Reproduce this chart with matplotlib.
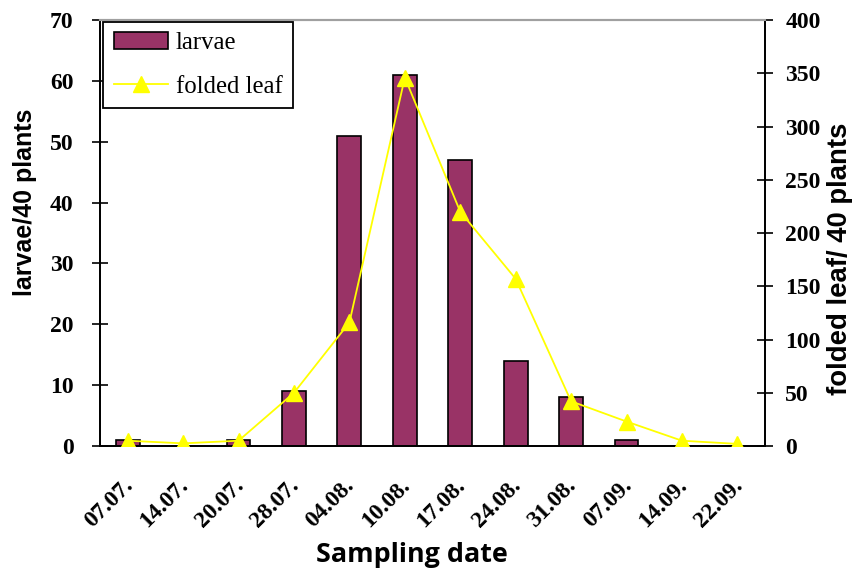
import matplotlib
matplotlib.use("Agg")
import matplotlib.pyplot as plt
import matplotlib.transforms as mtransforms
from matplotlib.font_manager import FontProperties
import numpy as np

dates = ["07.07.", "14.07.", "20.07.", "28.07.", "04.08.", "10.08.",
         "17.08.", "24.08.", "31.08.", "07.09.", "14.09.", "22.09."]
larvae = [1, 0, 1, 9, 51, 61, 47, 14, 8, 1, 0, 0]
folded_leaf = [5, 2.5, 5, 50, 116, 346, 220, 157, 42, 23, 5, 2]

fig = plt.figure(figsize=(8.6, 5.7), dpi=100)
ax = fig.add_axes([0.1163, 0.2175, 0.7733, 0.7474])
x = np.arange(len(dates))

bars = ax.bar(x, larvae, width=0.43, color="#993366", edgecolor="black",
              linewidth=1.2, label="larvae", zorder=2)
ax.set_xlim(-0.5, len(dates) - 0.5)
ax.set_ylim(0, 70)
ax.set_yticks(range(0, 71, 10))

ax2 = ax.twinx()
line, = ax2.plot(x, folded_leaf, color="#FFFF00", marker="^", markersize=11,
                 linewidth=1.3, label="folded leaf", zorder=3)
ax2.set_ylim(0, 400)
ax2.set_yticks(range(0, 401, 50))

ytick_fp = FontProperties(family="Liberation Serif", weight="bold", size=17)
xtick_fp = FontProperties(family="Liberation Serif", weight="bold", size=17)
for a in (ax, ax2):
    a.spines["top"].set_color("#a0a0a0")
    a.spines["top"].set_linewidth(1.5)
    a.spines["left"].set_linewidth(1.3)
    a.spines["right"].set_linewidth(1.3)
    a.spines["bottom"].set_linewidth(1.3)
    a.tick_params(axis="y", direction="inout", length=11, width=1.2)
ax.tick_params(axis="y", pad=13.5)
ax2.tick_params(axis="y", pad=9)

for lab in ax.get_yticklabels() + ax2.get_yticklabels():
    lab.set_fontproperties(ytick_fp)

ax.set_xticks(x)
ax.set_xticklabels(dates, rotation=45, ha="right", rotation_mode="anchor",
                   fontproperties=xtick_fp)
ax.tick_params(axis="x", length=0, pad=21)
offset = mtransforms.ScaledTranslation(-4 / 72, 0, fig.dpi_scale_trans)
for lab in ax.get_xticklabels():
    lab.set_transform(lab.get_transform() + offset)

ax.set_ylabel("larvae/40 plants", family="Liberation Sans", weight="bold",
              fontsize=18)
ax.yaxis.set_label_coords(-0.0945, 0.573)
ax2.set_ylabel("folded leaf/ 40 plants", family="Liberation Sans", weight="bold",
               fontsize=19.8)
ax2.yaxis.set_label_coords(1.093, 0.439)
ax.set_xlabel("Sampling date", family="Open Sans", weight="bold", fontsize=19.4)
ax.xaxis.set_label_coords(0.469, -0.226)

leg = ax2.legend([bars, line], ["larvae", "folded leaf"], loc="upper left",
                 bbox_to_anchor=(0.005, 0.996), fancybox=False, edgecolor="black",
                 framealpha=1, borderaxespad=0.0, handlelength=2.2,
                 handletextpad=0.3, borderpad=0.42, labelspacing=0.85,
                 prop=dict(family="Liberation Serif", size=17.8))
leg.get_frame().set_linewidth(1.3)

fig.savefig("out.png", dpi=100)
